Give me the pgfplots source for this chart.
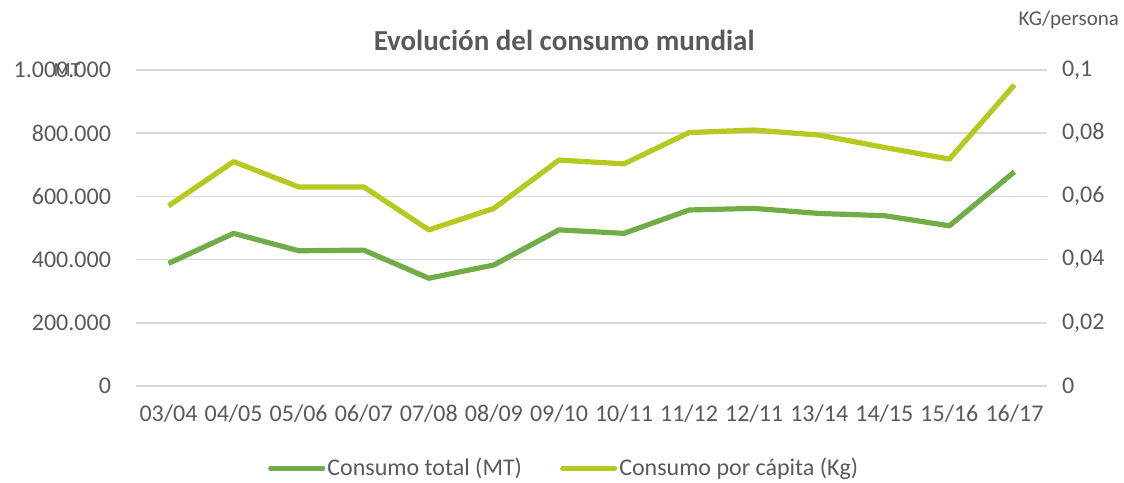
\documentclass[border=0pt]{standalone}
\usepackage{fontspec}
\setmainfont{Carlito}
\usepackage{pgfplots}
\pgfplotsset{compat=1.18}
\definecolor{dgreen}{HTML}{70AD47}
\definecolor{lgreen}{HTML}{B5C91F}
\definecolor{txt}{HTML}{595959}
\definecolor{gridc}{HTML}{D9D9D9}
\begin{document}
\begin{tikzpicture}
\useasboundingbox (-68pt,-48pt) rectangle (494pt,193pt);
\begin{axis}[
 at={(0,0)}, anchor=south west,
 scale only axis, width=455.5pt, height=158pt,
 xmin=-0.5, xmax=13.5, ymin=0, ymax=1000000,
 scaled y ticks=false,
 xtick={0,...,13},
 xticklabels={03/04,04/05,05/06,06/07,07/08,08/09,09/10,10/11,11/12,12/11,13/14,14/15,15/16,16/17},
 ytick={0,200000,400000,600000,800000,1000000},
 yticklabels={0,200.000,400.000,600.000,800.000,1.000.000},
 ymajorgrids, grid style={color=gridc, line width=0.8pt},
 axis line style={draw=none}, major tick length=0pt,
 tick label style={font=\fontsize{12}{14}\selectfont, text=txt},
 yticklabel style={xshift=-9pt}, xticklabel style={yshift=-6pt},
 clip=false,
 legend columns=2,
 legend style={draw=none, fill=none, at={(0.47,-0.26)}, anchor=center,
   font=\fontsize{12}{14}\selectfont, text=txt, nodes={inner sep=1pt},
   /tikz/every even column/.append style={column sep=18pt}},
 legend image code/.code={\draw[#1, line cap=round] (0pt,0pt) -- (26pt,0pt);},
]
\addplot[dgreen, line width=2.6pt, line join=round] coordinates {
(0,388000) (1,483000) (2,428000) (3,430000) (4,341000) (5,383000) (6,494000)
(7,483000) (8,557000) (9,562000) (10,546000) (11,539000) (12,507000) (13,678000)};
\addlegendentry{Consumo total (MT)}
\addlegendimage{lgreen, line width=2.6pt}
\addlegendentry{Consumo por cápita (Kg)}
\node[font=\bfseries\fontsize{14.5}{17}\selectfont, text=txt] at (rel axis cs:0.47,1) [yshift=15pt] {Evolución del consumo mundial};
\node[font=\fontsize{10.5}{12}\selectfont, text=txt] at (rel axis cs:1.024,1) [yshift=25pt] {KG/persona};
\node[font=\fontsize{10}{12}\selectfont, text=txt] at (rel axis cs:-0.0757,1) {MT};
\end{axis}
\begin{axis}[
 at={(0,0)}, anchor=south west,
 scale only axis, width=455.5pt, height=158pt,
 xmin=-0.5, xmax=13.5, ymin=0, ymax=0.1,
 xtick=\empty,
 ytick={0,0.02,0.04,0.06,0.08,0.1},
 yticklabels={0,{0,02},{0,04},{0,06},{0,08},{0,1}},
 yticklabel pos=right,
 axis line style={draw=none}, major tick length=0pt,
 tick label style={font=\fontsize{12}{14}\selectfont, text=txt},
 yticklabel style={xshift=4pt},
 clip=false,
]
\addplot[lgreen, line width=2.6pt, line join=round] coordinates {
(0,0.057) (1,0.071) (2,0.063) (3,0.063) (4,0.0494) (5,0.0562) (6,0.0715)
(7,0.0703) (8,0.0802) (9,0.081) (10,0.0794) (11,0.0755) (12,0.0718) (13,0.0953)};
\end{axis}
\end{tikzpicture}
\end{document}
